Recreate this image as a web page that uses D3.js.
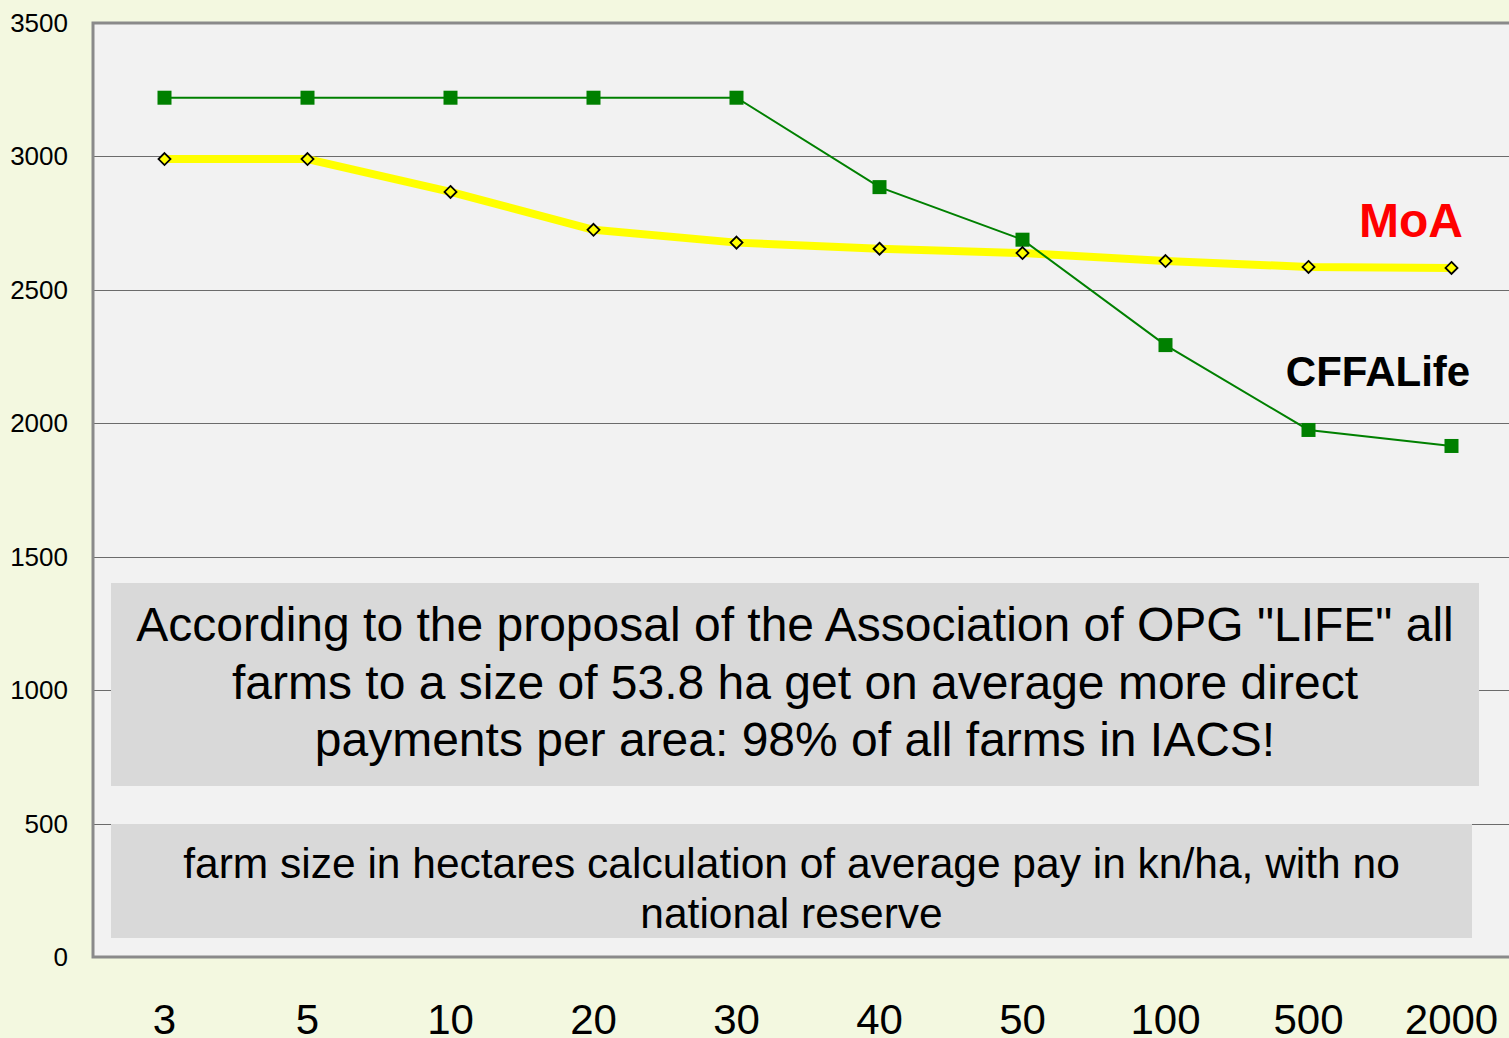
<!DOCTYPE html>
<html>
<head>
<meta charset="utf-8">
<script src="https://cdn.jsdelivr.net/npm/d3@7"></script>
<style>
  html, body { margin: 0; padding: 0; background: #F3F8E0; overflow: hidden; }
  svg { display: block; font-family: "Liberation Sans", Arial, sans-serif; }
</style>
</head>
<body>
<svg id="chart"></svg>
<script>
var width = 1509;
var height = 1038;

// data
var farmSizes = ["3", "5", "10", "20", "30", "40", "50", "100", "500", "2000"];
var cffaLife = [3220, 3220, 3220, 3220, 3220, 2885, 2688, 2293, 1975, 1915];
var moa = [2990, 2990, 2867, 2725, 2677, 2654, 2638, 2608, 2586, 2582];
var yTicks = [0, 500, 1000, 1500, 2000, 2500, 3000, 3500];

var noteText = ["According to the proposal of the Association of OPG \"LIFE\" all",
  "farms to a size of 53.8 ha get on average more direct",
  "payments per area: 98% of all farms in IACS!"];
var axisText = ["farm size in hectares calculation of average pay in kn/ha, with no",
  "national reserve"];

var plot = { left: 93, top: 23, right: 1523, bottom: 957 };

var svg = d3.select("#chart")
  .attr("width", width)
  .attr("height", height);

var x = d3.scaleBand()
  .domain(farmSizes)
  .range([plot.left, plot.right]);

var y = d3.scaleLinear()
  .domain([0, 3500])
  .range([plot.bottom, plot.top]);

function cx(d, i) { return x(farmSizes[i]) + x.bandwidth() / 2; }

// plot area
svg.append("rect")
  .attr("x", plot.left)
  .attr("y", plot.top)
  .attr("width", plot.right - plot.left)
  .attr("height", plot.bottom - plot.top)
  .attr("fill", "#F2F2F2");

// gridlines
svg.append("g")
  .selectAll("line")
  .data(yTicks.filter(function(d){ return d > 0 && d < 3500; }))
  .enter().append("line")
  .attr("x1", plot.left)
  .attr("x2", plot.right)
  .attr("y1", function(d){ return Math.round(y(d)) + 0.5; })
  .attr("y2", function(d){ return Math.round(y(d)) + 0.5; })
  .attr("stroke", "#6b6b6b")
  .attr("stroke-width", 1);

// border
svg.append("path")
  .attr("d", "M" + plot.right + "," + plot.top + "H" + plot.left + "V" + plot.bottom + "H" + plot.right)
  .attr("fill", "none")
  .attr("stroke", "#8a8a8a")
  .attr("stroke-width", 3);

// y axis labels
svg.append("g")
  .selectAll("text")
  .data(yTicks)
  .enter().append("text")
  .attr("x", 68)
  .attr("y", function(d){ return y(d) + 9; })
  .attr("text-anchor", "end")
  .attr("font-size", "26px")
  .attr("fill", "#000")
  .text(function(d){ return d; });

// x axis labels
svg.append("g")
  .selectAll("text")
  .data(farmSizes)
  .enter().append("text")
  .attr("x", function(d){ return x(d) + x.bandwidth() / 2; })
  .attr("y", 1034)
  .attr("text-anchor", "middle")
  .attr("font-size", "42px")
  .attr("fill", "#000")
  .text(function(d){ return d; });

// note boxes
function textBox(x0, y0, w, h, lines, size, firstBase, step) {
  var gb = svg.append("g");
  gb.append("rect")
    .attr("x", x0).attr("y", y0)
    .attr("width", w).attr("height", h)
    .attr("fill", "#D9D9D9");
  gb.selectAll("text")
    .data(lines)
    .enter().append("text")
    .attr("x", x0 + w / 2)
    .attr("y", function(d, i){ return firstBase + i * step; })
    .attr("text-anchor", "middle")
    .attr("font-size", size + "px")
    .attr("fill", "#000")
    .text(function(d){ return d; });
}
textBox(111, 583, 1368, 203, noteText, 48, 641, 57.5);
textBox(111, 824, 1361, 114, axisText, 42.5, 878, 50);

var line = d3.line()
  .x(cx)
  .y(function(d){ return y(d); });

// MoA (yellow)
svg.append("path")
  .datum(moa)
  .attr("d", line)
  .attr("fill", "none")
  .attr("stroke", "#FFFF00")
  .attr("stroke-width", 8)
  .attr("stroke-linejoin", "round");

// CFFALife (green)
svg.append("path")
  .datum(cffaLife)
  .attr("d", line)
  .attr("fill", "none")
  .attr("stroke", "#008000")
  .attr("stroke-width", 2);

svg.append("g")
  .selectAll("rect")
  .data(cffaLife)
  .enter().append("rect")
  .attr("x", function(d, i){ return cx(d, i) - 7; })
  .attr("y", function(d){ return y(d) - 7; })
  .attr("width", 14)
  .attr("height", 14)
  .attr("fill", "#008000");

svg.append("g")
  .selectAll("path")
  .data(moa)
  .enter().append("path")
  .attr("transform", function(d, i){ return "translate(" + cx(d, i) + "," + y(d) + ")"; })
  .attr("d", "M0,-6L6,0L0,6L-6,0Z")
  .attr("fill", "#FFFF00")
  .attr("stroke", "#000")
  .attr("stroke-width", 1.8);

// series labels
svg.append("text")
  .attr("x", 1411)
  .attr("y", 237)
  .attr("text-anchor", "middle")
  .attr("font-size", "48px")
  .attr("font-weight", "bold")
  .attr("fill", "#FF0000")
  .text("MoA");

svg.append("text")
  .attr("x", 1378)
  .attr("y", 386)
  .attr("text-anchor", "middle")
  .attr("font-size", "42px")
  .attr("font-weight", "bold")
  .attr("fill", "#000")
  .text("CFFALife");
</script>
</body>
</html>
